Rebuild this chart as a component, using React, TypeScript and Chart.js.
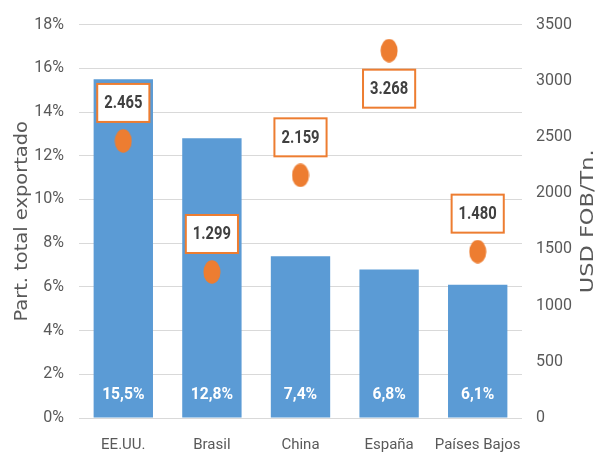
import React, { useEffect, useRef } from "react";
import { Chart, registerables } from "chart.js";

Chart.register(...registerables);

const categories = ["EE.UU.", "Brasil", "China", "España", "Países Bajos"];
const shareValues = [15.5, 12.8, 7.4, 6.8, 6.1];
const priceValues = [2465, 1299, 2159, 3268, 1480];
const leftTicksMax = 18;
const rightTicksMax = 3500;

const BAR_COLOR = "#5B9BD5";
const DOT_COLOR = "#ED7D31";
const TICK_COLOR = "#595959";
const TICK_FONT = "Roboto, 'Liberation Sans', sans-serif";
const TITLE_FONT = "'DejaVu Sans', Verdana, sans-serif";

const fmtShare = (v: number) => v.toFixed(1).replace(".", ",") + "%";
const fmtPrice = (v: number) => {
  const s = Math.round(v).toString();
  return s.replace(/\B(?=(\d{3})+(?!\d))/g, ".");
};

function makeEllipse(): HTMLCanvasElement {
  const c = document.createElement("canvas");
  c.width = 18;
  c.height = 24;
  const ctx = c.getContext("2d")!;
  ctx.fillStyle = DOT_COLOR;
  ctx.beginPath();
  ctx.ellipse(9, 12, 8.5, 11.8, 0, 0, Math.PI * 2);
  ctx.fill();
  return c;
}

function narrowText(ctx: CanvasRenderingContext2D, txt: string, x: number, y: number, sx: number) {
  ctx.save();
  ctx.translate(x, y);
  ctx.scale(sx, 1);
  ctx.fillText(txt, 0, 0);
  ctx.restore();
}

const labelPlugin = {
  id: "customLabels",
  afterDatasetsDraw(chart: any) {
    const ctx = chart.ctx as CanvasRenderingContext2D;
    const area = chart.chartArea;
    const yScale = chart.scales.y;
    ctx.save();
    ctx.textAlign = "center";
    ctx.textBaseline = "middle";
    const barMeta = chart.getDatasetMeta(1);
    ctx.font = `bold 17px ${TICK_FONT}`;
    ctx.fillStyle = "#ffffff";
    barMeta.data.forEach((el: any, i: number) => {
      narrowText(ctx, fmtShare(shareValues[i]), el.x, yScale.bottom - 23, 0.92);
    });
    const ptMeta = chart.getDatasetMeta(0);
    ctx.font = `bold 18px ${TICK_FONT}`;
    ptMeta.data.forEach((el: any, i: number) => {
      const txt = fmtPrice(priceValues[i]);
      const w = ctx.measureText(txt).width * 0.82 + 14;
      const h = 38;
      let cy = el.y - 38;
      if (cy - h / 2 < area.top) cy = el.y + 38;
      ctx.fillStyle = "#ffffff";
      ctx.fillRect(el.x - w / 2, cy - h / 2, w, h);
      ctx.strokeStyle = DOT_COLOR;
      ctx.lineWidth = 2;
      ctx.strokeRect(el.x - w / 2, cy - h / 2, w, h);
      ctx.fillStyle = "#404040";
      narrowText(ctx, txt, el.x, cy + 1, 0.82);
    });
    ctx.restore();
  },
  afterDraw(chart: any) {
    const ctx = chart.ctx as CanvasRenderingContext2D;
    const area = chart.chartArea;
    const cy = (area.top + area.bottom) / 2;
    ctx.save();
    ctx.fillStyle = TICK_COLOR;
    ctx.textAlign = "center";
    ctx.textBaseline = "middle";
    ctx.font = `18px ${TITLE_FONT}`;
    ctx.save();
    ctx.translate(22, cy);
    ctx.rotate(-Math.PI / 2);
    ctx.scale(1.08, 1);
    ctx.fillText("Part. total exportado", 0, 0);
    ctx.restore();
    ctx.save();
    ctx.translate(588, cy);
    ctx.rotate(-Math.PI / 2);
    ctx.scale(1.25, 1);
    ctx.fillText("USD FOB/Tn.", 0, 0);
    ctx.restore();
    ctx.restore();
  },
};

export default function App() {
  const ref = useRef<HTMLCanvasElement>(null);
  useEffect(() => {
    document.body.style.margin = "0";
    const dot = makeEllipse();
    const chart = new Chart(ref.current!, {
      type: "bar",
      data: {
        labels: categories,
        datasets: [
          {
            type: "line",
            label: "USD FOB/Tn.",
            data: priceValues,
            yAxisID: "y1",
            showLine: false,
            pointStyle: dot as any,
            pointRadius: 10,
            backgroundColor: DOT_COLOR,
            borderColor: DOT_COLOR,
            order: 0,
          } as any,
          {
            type: "bar",
            label: "Part. total exportado",
            data: shareValues,
            yAxisID: "y",
            backgroundColor: BAR_COLOR,
            categoryPercentage: 1,
            barPercentage: 0.67,
            order: 1,
          },
        ],
      },
      options: {
        responsive: false,
        animation: false,
        layout: { padding: { top: 19, left: 0, right: 0, bottom: 0 } },
        plugins: {
          legend: { display: false },
          tooltip: { enabled: false },
        },
        scales: {
          x: {
            grid: { display: false },
            border: { display: false },
            ticks: {
              color: TICK_COLOR,
              font: { size: 15, family: TICK_FONT },
              padding: 10,
              maxRotation: 0,
              minRotation: 0,
              autoSkip: false,
            },
            afterFit: (s: any) => {
              s.height = 40;
            },
          },
          y: {
            position: "left",
            min: 0,
            max: leftTicksMax,
            ticks: {
              stepSize: 2,
              color: TICK_COLOR,
              font: { size: 16, family: TICK_FONT },
              padding: 15,
              callback: (v: any) => v + "%",
            },
            grid: { color: "#d9d9d9", drawTicks: false },
            border: { display: false },
            afterFit: (s: any) => {
              s.width = 79;
            },
          },
          y1: {
            position: "right",
            min: 0,
            max: rightTicksMax,
            ticks: {
              stepSize: 500,
              color: TICK_COLOR,
              font: { size: 16, family: TICK_FONT },
              padding: 14,
              callback: (v: any) => String(v),
            },
            grid: { display: false, drawTicks: false },
            border: { display: false },
            afterFit: (s: any) => {
              s.width = 75;
            },
          },
        },
      },
      plugins: [labelPlugin],
    });
    return () => chart.destroy();
  }, []);
  return (
    <div style={{ position: "absolute", left: 0, top: 0, width: 597, height: 458 }}>
      <canvas ref={ref} width={597} height={458} />
    </div>
  );
}
